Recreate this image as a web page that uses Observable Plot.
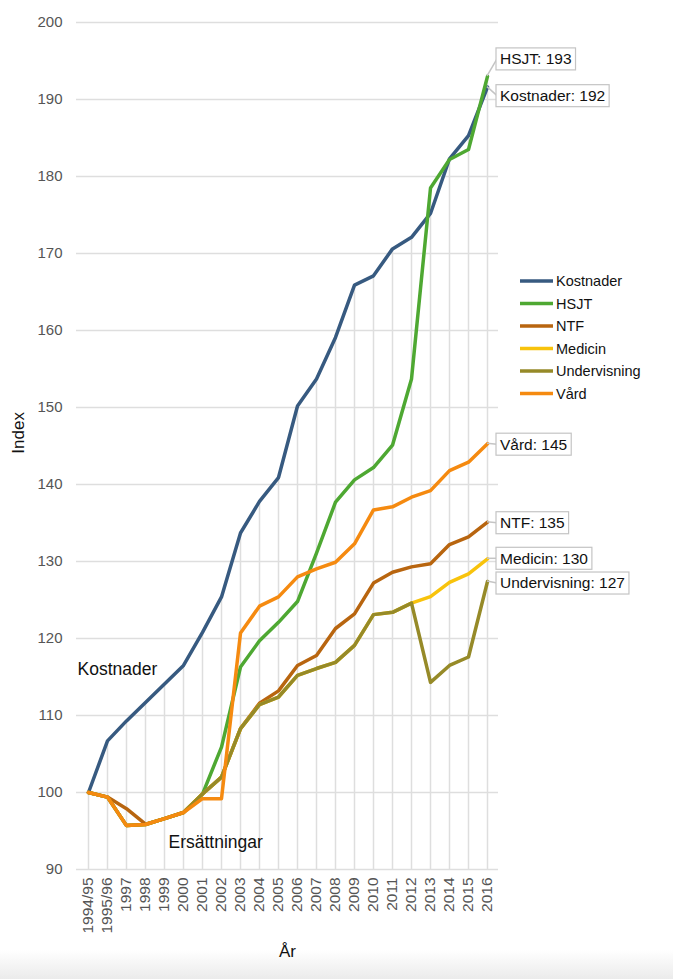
<!DOCTYPE html>
<html><head><meta charset="utf-8">
<script src="https://cdn.jsdelivr.net/npm/d3@7"></script>
<script src="https://cdn.jsdelivr.net/npm/@observablehq/plot@0.6"></script>
<style>
html,body{margin:0;padding:0;background:#fff;}
body{width:673px;height:979px;overflow:hidden;background:linear-gradient(to bottom,#fff 0,#fff 950px,#ebebeb 979px);font-family:"Liberation Sans",Arial,sans-serif;}
#chart svg{display:block;}
</style></head><body><div id="chart"></div>
<script>
const years = ["1994/95","1995/96","1997","1998","1999","2000","2001","2002","2003","2004","2005","2006","2007","2008","2009","2010","2011","2012","2013","2014","2015","2016"];
const seriesNames = ["Kostnader","HSJT","NTF","Medicin","Undervisning","Vård"];
const seriesColors = ["#375a80","#4ea832","#b8650f","#f8c30c","#968a28","#f58a10"];
const kostnader = [100,106.7,109.3,111.7,114.1,116.5,120.8,125.4,133.7,137.8,140.9,150.2,153.7,159.1,165.9,167.1,170.6,172.1,175.2,182.3,185.3,191.6];
const hsjt = [100,99.4,95.7,95.85,96.6,97.4,99.8,105.9,116.3,119.7,122.1,124.8,131.1,137.7,140.6,142.2,145.1,153.7,178.5,182.2,183.5,193.0];
const ntf = [100,99.4,97.9,95.9,96.6,97.4,99.8,102.0,108.3,111.6,113.2,116.5,117.8,121.3,123.2,127.2,128.6,129.3,129.7,132.2,133.2,135.1];
const medicin = [100,99.4,95.7,95.85,96.6,97.4,99.8,102.0,108.3,111.4,112.4,115.2,116.1,116.9,119.1,123.1,123.4,124.6,125.45,127.3,128.4,130.35];
const undervisning = [100,99.4,95.7,95.85,96.6,97.4,99.8,102.0,108.3,111.4,112.4,115.2,116.1,116.9,119.1,123.1,123.4,124.6,114.3,116.5,117.6,127.4];
const vard = [100,99.4,95.7,95.85,96.6,97.4,99.2,99.2,120.7,124.2,125.4,128.0,129.05,129.9,132.3,136.7,137.1,138.35,139.2,141.8,142.9,145.3];
const yTicks = [90,100,110,120,130,140,150,160,170,180,190,200];
const annotations = [{text:"Kostnader", year:"1994/95", value:116.0},{text:"Ersättningar", year:"1999", value:93.5}];
const calloutOrder = ["HSJT","Kostnader","Vård","NTF","Medicin","Undervisning"];

const values = [kostnader,hsjt,ntf,medicin,undervisning,vard];
const data = seriesNames.flatMap((name,i)=>values[i].map((v,j)=>({series:name,year:years[j],value:v})));
const tops = years.map((y,j)=>({year:y,top:d3.max(values,s=>s[j])}));

const plot = Plot.plot({
  width:673, height:979, marginTop:22, marginBottom:110, marginLeft:76, marginRight:175,
  style:{fontFamily:"Liberation Sans, Arial, sans-serif", fontSize:"15px", color:"#555", background:"transparent"},
  x:{type:"point", domain:years, padding:0.5, label:null},
  y:{domain:[90,200], label:null},
  color:{domain:seriesNames, range:seriesColors},
  marks:[
    Plot.ruleY(yTicks,{stroke:"#dedede",strokeWidth:1.5}),
    Plot.ruleX(tops,{x:"year",y1:90,y2:"top",stroke:"#dedede",strokeWidth:1.5}),
    Plot.axisY({ticks:yTicks,tickSize:0,tickPadding:14,label:null,fill:"#555",fontSize:15}),
    Plot.axisX({tickRotate:-90,tickSize:0,tickPadding:8,label:null,fill:"#555",fontSize:15.5}),
    Plot.line(data,{x:"year",y:"value",z:"series",stroke:"series",strokeWidth:3.5,strokeLinejoin:"round",strokeLinecap:"round"}),
    Plot.text(annotations.slice(0,1),{x:"year",y:"value",text:"text",textAnchor:"start",dx:-11,fontSize:17.5,fill:"#111"}),
    Plot.text(annotations.slice(1),{x:"year",y:"value",text:"text",textAnchor:"start",dx:4,fontSize:17.5,fill:"#111"}),
    Plot.text(["År"],{frameAnchor:"bottom",text:d=>d,dy:87,fontSize:17,fill:"#111"}),
    Plot.text(["Index"],{frameAnchor:"left",y:()=>144,text:d=>d,dx:-58,rotate:-90,fontSize:17,fill:"#111"})
  ]
});
document.getElementById("chart").append(plot);

const svg = d3.select(plot.tagName.toLowerCase()==="svg"?plot:plot.querySelector("svg"));
const xs = plot.scale("x"), ys = plot.scale("y");
const calloutShift = {"HSJT":-17,"Kostnader":9,"Vård":1,"NTF":1,"Medicin":0,"Undervisning":2};
const cg = svg.append("g").attr("text-anchor","start");
const last = years[years.length-1];
calloutOrder.forEach(name=>{
  const v = values[seriesNames.indexOf(name)][years.length-1];
  const px = xs.apply(last), py = ys.apply(v);
  const bx = px+9, cy = py+calloutShift[name];
  const g = cg.append("g");
  g.append("line").attr("x1",px).attr("y1",py).attr("x2",bx+1).attr("y2",cy).attr("stroke","#c4c4c4").attr("stroke-width",1.5);
  const r = g.append("rect");
  const t = g.append("text").attr("x",bx+4).attr("y",cy).attr("dy","0.35em").attr("text-anchor","start")
    .attr("font-size",15.5).attr("fill","#111").attr("font-family","Liberation Sans, Arial, sans-serif")
    .text(`${name}: ${Math.round(v)}`);
  const w = t.node().getComputedTextLength();
  r.attr("x",bx).attr("y",cy-11).attr("width",w+8).attr("height",22).attr("fill","#fff").attr("stroke","#c4c4c4").attr("stroke-width",1.2);
});

const lg = svg.append("g").attr("text-anchor","start");
seriesNames.forEach((name,i)=>{
  const y = 281+i*22.5;
  lg.append("line").attr("x1",520).attr("x2",553).attr("y1",y).attr("y2",y).attr("stroke",seriesColors[i]).attr("stroke-width",3.5);
  lg.append("text").attr("x",556).attr("y",y).attr("dy","0.35em").attr("text-anchor","start").attr("font-size",14.5).attr("fill","#111")
    .attr("font-family","Liberation Sans, Arial, sans-serif").text(name);
});
</script></body></html>
